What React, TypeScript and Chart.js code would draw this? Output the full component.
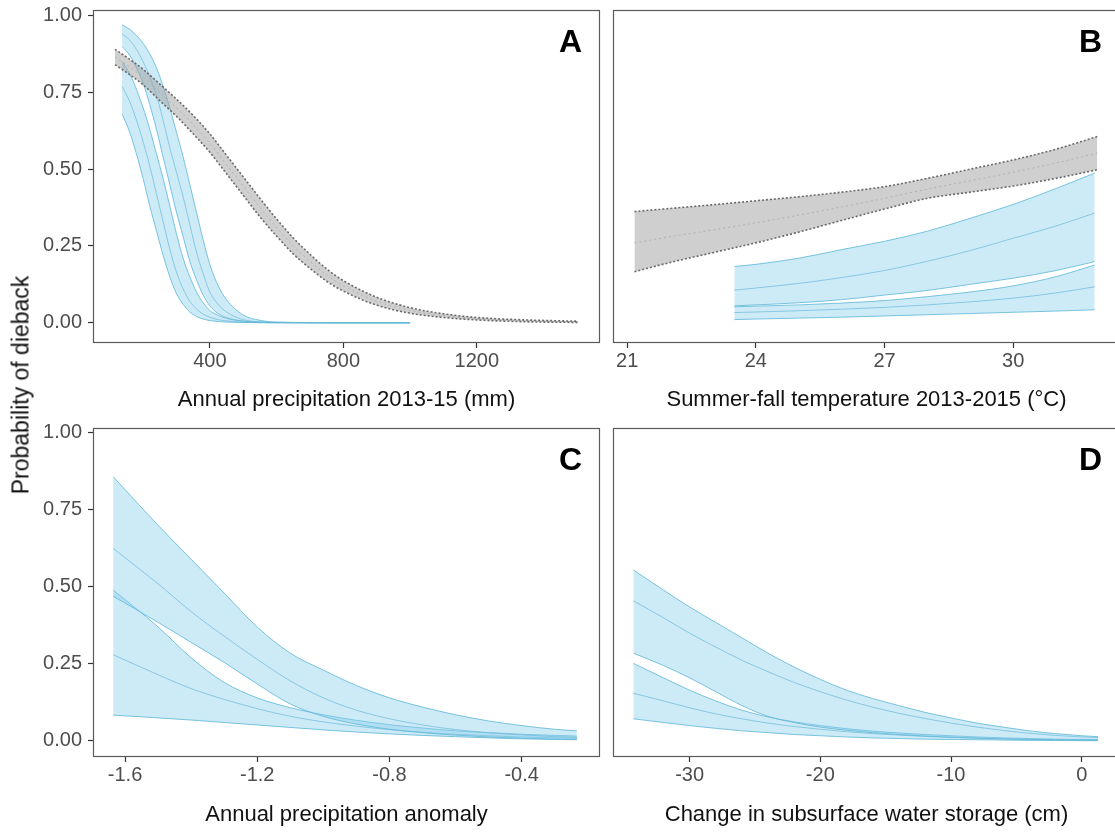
import React, { useEffect, useRef } from "react";
import { Chart, registerables } from "chart.js";

Chart.register(...registerables);

const FONT = "'Liberation Sans', Arial, Helvetica, sans-serif";

// ---------- shared y axis ----------
const Y_TICKS = [0, 0.25, 0.5, 0.75, 1.0];
const Y_TITLE = "Probability of dieback";

// ---------- Panel A: annual precipitation ----------
const A_X_TICKS = [400, 800, 1200];
const A_X_TITLE = "Annual precipitation 2013-15 (mm)";
const A_GRAY_X = [116, 150, 200, 250, 300, 350, 400, 450, 500, 550, 600, 650, 700, 750, 800, 900, 1000, 1100, 1200, 1350, 1503];
const A_GRAY_UP = [0.89, 0.865, 0.825, 0.777, 0.728, 0.675, 0.615, 0.545, 0.475, 0.405, 0.338, 0.276, 0.223, 0.175, 0.137, 0.083, 0.049, 0.029, 0.017, 0.009, 0.005];
const A_GRAY_MID = [0.865, 0.84, 0.8, 0.75, 0.7, 0.645, 0.585, 0.515, 0.445, 0.375, 0.31, 0.25, 0.2, 0.155, 0.12, 0.07, 0.04, 0.023, 0.013, 0.006, 0.003];
const A_GRAY_LOW = [0.84, 0.815, 0.775, 0.723, 0.672, 0.615, 0.555, 0.485, 0.415, 0.345, 0.282, 0.224, 0.177, 0.135, 0.103, 0.057, 0.031, 0.017, 0.009, 0.003, 0.001];
const A_BLUE_X = [137, 160, 180, 200, 220, 240, 260, 280, 300, 320, 340, 360, 380, 400, 425, 450, 500, 550, 600, 800, 1000];
const A_L_UP = [0.85, 0.81, 0.76, 0.7, 0.63, 0.55, 0.47, 0.38, 0.29, 0.21, 0.15, 0.1, 0.065, 0.04, 0.024, 0.014, 0.005, 0.002, 0.001, 0, 0];
const A_L_MID = [0.77, 0.72, 0.66, 0.59, 0.51, 0.42, 0.33, 0.24, 0.165, 0.11, 0.07, 0.045, 0.028, 0.018, 0.01, 0.006, 0.002, 0.001, 0, 0, 0];
const A_L_LOW = [0.68, 0.62, 0.55, 0.47, 0.38, 0.3, 0.22, 0.15, 0.095, 0.06, 0.035, 0.02, 0.012, 0.007, 0.004, 0.002, 0.001, 0, 0, 0, 0];
const A_R_UP = [0.97, 0.955, 0.935, 0.91, 0.875, 0.83, 0.77, 0.7, 0.62, 0.54, 0.45, 0.36, 0.27, 0.19, 0.12, 0.075, 0.025, 0.008, 0.002, 0, 0];
const A_R_MID = [0.94, 0.92, 0.89, 0.85, 0.8, 0.74, 0.66, 0.57, 0.49, 0.41, 0.32, 0.23, 0.16, 0.1, 0.06, 0.035, 0.01, 0.003, 0.001, 0, 0];
const A_R_LOW = [0.9, 0.87, 0.83, 0.78, 0.71, 0.63, 0.54, 0.45, 0.36, 0.28, 0.2, 0.14, 0.09, 0.055, 0.03, 0.017, 0.005, 0.001, 0, 0, 0];

// ---------- Panel B: summer-fall temperature ----------
const B_X_TICKS = [21, 24, 27, 30];
const B_X_TITLE = "Summer-fall temperature 2013-2015 (°C)";
const B_GRAY_X = [21.17, 22, 23, 24, 25, 26, 27, 28, 29, 30, 31, 31.96];
const B_GRAY_UP = [0.362, 0.372, 0.384, 0.397, 0.41, 0.425, 0.443, 0.47, 0.5, 0.53, 0.565, 0.606];
const B_GRAY_MID = [0.26, 0.28, 0.302, 0.325, 0.35, 0.377, 0.405, 0.435, 0.462, 0.49, 0.52, 0.552];
const B_GRAY_LOW = [0.166, 0.196, 0.228, 0.26, 0.295, 0.333, 0.37, 0.405, 0.425, 0.445, 0.47, 0.498];
const B_BLUE_X = [23.5, 24, 25, 26, 27, 28, 29, 30, 31, 31.9];
const B1_UP = [0.183, 0.19, 0.21, 0.238, 0.265, 0.298, 0.34, 0.385, 0.437, 0.487];
const B1_MID = [0.106, 0.113, 0.128, 0.147, 0.17, 0.2, 0.235, 0.275, 0.315, 0.357];
const B1_LOW = [0.055, 0.058, 0.065, 0.075, 0.09, 0.105, 0.125, 0.145, 0.17, 0.199];
const B2_UP = [0.052, 0.054, 0.058, 0.064, 0.072, 0.085, 0.1, 0.12, 0.15, 0.188];
const B2_MID = [0.033, 0.035, 0.039, 0.044, 0.05, 0.058, 0.068, 0.08, 0.097, 0.117];
const B2_LOW = [0.01, 0.012, 0.015, 0.018, 0.022, 0.026, 0.03, 0.034, 0.038, 0.042];

// ---------- Panel C: annual precipitation anomaly ----------
const C_X_TICKS = [-1.6, -1.2, -0.8, -0.4];
const C_X_TITLE = "Annual precipitation anomaly";
const C_X = [-1.636, -1.5, -1.4, -1.3, -1.2, -1.1, -1.0, -0.9, -0.8, -0.7, -0.6, -0.5, -0.4, -0.3, -0.233];
const C1_UP = [0.858, 0.7, 0.59, 0.48, 0.37, 0.285, 0.23, 0.18, 0.14, 0.11, 0.085, 0.065, 0.05, 0.038, 0.033];
const C1_MID = [0.625, 0.51, 0.42, 0.34, 0.265, 0.195, 0.14, 0.1, 0.072, 0.052, 0.037, 0.027, 0.02, 0.014, 0.012];
const C1_LOW = [0.47, 0.385, 0.32, 0.255, 0.185, 0.12, 0.08, 0.055, 0.038, 0.027, 0.019, 0.013, 0.009, 0.006, 0.005];
const C2_UP = [0.49, 0.37, 0.27, 0.19, 0.14, 0.108, 0.085, 0.067, 0.053, 0.042, 0.033, 0.027, 0.022, 0.018, 0.016];
const C2_MID = [0.28, 0.215, 0.17, 0.135, 0.105, 0.08, 0.062, 0.048, 0.037, 0.028, 0.022, 0.017, 0.013, 0.01, 0.009];
const C2_LOW = [0.084, 0.075, 0.068, 0.06, 0.052, 0.044, 0.036, 0.029, 0.023, 0.018, 0.014, 0.01, 0.007, 0.005, 0.004];

// ---------- Panel D: change in subsurface water storage ----------
const D_X_TICKS = [-30, -20, -10, 0];
const D_X_TITLE = "Change in subsurface water storage (cm)";
const D_X = [-34.3, -32, -30, -28, -26, -24, -22, -20, -18, -16, -14, -12, -10, -8, -6, -4, -2, 0, 1.25];
const D1_UP = [0.555, 0.49, 0.435, 0.385, 0.335, 0.285, 0.24, 0.2, 0.165, 0.138, 0.115, 0.093, 0.075, 0.058, 0.045, 0.033, 0.024, 0.017, 0.014];
const D1_MID = [0.455, 0.4, 0.35, 0.305, 0.262, 0.225, 0.19, 0.16, 0.133, 0.11, 0.09, 0.073, 0.058, 0.045, 0.034, 0.025, 0.018, 0.013, 0.011];
const D1_LOW = [0.285, 0.245, 0.205, 0.16, 0.115, 0.08, 0.06, 0.045, 0.035, 0.027, 0.021, 0.016, 0.012, 0.009, 0.007, 0.005, 0.004, 0.003, 0.003];
const D2_UP = [0.252, 0.205, 0.165, 0.13, 0.1, 0.078, 0.062, 0.05, 0.04, 0.032, 0.026, 0.021, 0.017, 0.013, 0.01, 0.008, 0.006, 0.005, 0.004];
const D2_MID = [0.155, 0.13, 0.108, 0.088, 0.072, 0.058, 0.047, 0.038, 0.03, 0.024, 0.019, 0.015, 0.012, 0.009, 0.007, 0.005, 0.004, 0.003, 0.003];
const D2_LOW = [0.072, 0.06, 0.05, 0.041, 0.033, 0.027, 0.021, 0.017, 0.013, 0.01, 0.008, 0.006, 0.005, 0.004, 0.003, 0.002, 0.0015, 0.001, 0.001];

// ---------- styles ----------
const BLUE_LINE = "rgba(100,186,216,0.85)";
const BLUE_MID = "rgba(95,175,205,0.75)";
const BLUE_FILL = "rgba(135,206,235,0.42)";
const GRAY_LINE = "rgba(100,100,100,0.95)";
const GRAY_MID = "rgba(140,140,140,0.5)";
const GRAY_FILL = "rgba(160,160,160,0.5)";
const TICK_COLOR = "#4d4d4d";
const FRAME_COLOR = "#5a5a5a";

type Ribbon = { x: number[]; low: number[]; mid: number[]; up: number[]; gray?: boolean };

function toPts(x: number[], y: number[]) {
  return x.map((v, i) => ({ x: v, y: y[i] }));
}

function ribbonSets(r: Ribbon) {
  const base: any = {
    pointRadius: 0,
    borderWidth: r.gray ? 1.6 : 1,
    borderColor: r.gray ? GRAY_LINE : BLUE_LINE,
    borderDash: r.gray ? [2, 2] : [],
    cubicInterpolationMode: "monotone",
  };
  return [
    { ...base, data: toPts(r.x, r.low), fill: false },
    { ...base, data: toPts(r.x, r.up), fill: "-1", backgroundColor: r.gray ? GRAY_FILL : BLUE_FILL },
    {
      ...base,
      data: toPts(r.x, r.mid),
      fill: false,
      borderWidth: 1,
      borderColor: r.gray ? GRAY_MID : BLUE_MID,
      borderDash: r.gray ? [2, 3] : [],
    },
  ];
}

type PanelCfg = {
  left: number;
  top: number;
  width: number;
  height: number;
  pad: { top: number; right: number; bottom: number; left: number };
  showY: boolean;
  yMin: number;
  yMax: number;
  xMin: number;
  xMax: number;
  xTicks: number[];
  xDigits: number;
  xTitle: string;
  xAxisHeight: number;
  titlePad: number;
  ribbons: Ribbon[];
  letter: string;
};

const PANELS: PanelCfg[] = [
  {
    left: 0, top: 0, width: 610, height: 415,
    pad: { top: 10, right: 10, bottom: 0, left: 0 },
    showY: true, yMin: -0.066, yMax: 1.018,
    xMin: 50, xMax: 1569, xTicks: A_X_TICKS, xDigits: 0, xTitle: A_X_TITLE,
    xAxisHeight: 72, titlePad: 2,
    ribbons: [
      { x: A_GRAY_X, low: A_GRAY_LOW, mid: A_GRAY_MID, up: A_GRAY_UP, gray: true },
      { x: A_BLUE_X, low: A_R_LOW, mid: A_R_MID, up: A_R_UP },
      { x: A_BLUE_X, low: A_L_LOW, mid: A_L_MID, up: A_L_UP },
    ],
    letter: "A",
  },
  {
    left: 605, top: 0, width: 520, height: 415,
    pad: { top: 10, right: 5, bottom: 0, left: 8 },
    showY: false, yMin: -0.066, yMax: 1.018,
    xMin: 20.67, xMax: 32.49, xTicks: B_X_TICKS, xDigits: 0, xTitle: B_X_TITLE,
    xAxisHeight: 72, titlePad: 2,
    ribbons: [
      { x: B_GRAY_X, low: B_GRAY_LOW, mid: B_GRAY_MID, up: B_GRAY_UP, gray: true },
      { x: B_BLUE_X, low: B1_LOW, mid: B1_MID, up: B1_UP },
      { x: B_BLUE_X, low: B2_LOW, mid: B2_MID, up: B2_UP },
    ],
    letter: "B",
  },
  {
    left: 0, top: 415, width: 610, height: 417,
    pad: { top: 13, right: 10, bottom: 0, left: 0 },
    showY: true, yMin: -0.052, yMax: 1.016,
    xMin: -1.697, xMax: -0.163, xTicks: C_X_TICKS, xDigits: 1, xTitle: C_X_TITLE,
    xAxisHeight: 75, titlePad: 4,
    ribbons: [
      { x: C_X, low: C1_LOW, mid: C1_MID, up: C1_UP },
      { x: C_X, low: C2_LOW, mid: C2_MID, up: C2_UP },
    ],
    letter: "C",
  },
  {
    left: 605, top: 415, width: 520, height: 417,
    pad: { top: 13, right: 5, bottom: 0, left: 8 },
    showY: false, yMin: -0.052, yMax: 1.016,
    xMin: -35.86, xMax: 2.93, xTicks: D_X_TICKS, xDigits: 0, xTitle: D_X_TITLE,
    xAxisHeight: 75, titlePad: 4,
    ribbons: [
      { x: D_X, low: D1_LOW, mid: D1_MID, up: D1_UP },
      { x: D_X, low: D2_LOW, mid: D2_MID, up: D2_UP },
    ],
    letter: "D",
  },
];

function decoPlugin(letter: string) {
  return {
    id: "panelDeco" + letter,
    afterDraw(chart: any) {
      const { ctx, chartArea } = chart;
      const { left, top, right, bottom } = chartArea;
      ctx.save();
      ctx.strokeStyle = FRAME_COLOR;
      ctx.lineWidth = 1.2;
      ctx.strokeRect(Math.round(left) + 0.5, Math.round(top) + 0.5, Math.round(right - left) - 1, Math.round(bottom - top) - 1);
      ctx.fillStyle = "#000";
      ctx.font = `bold 32px ${FONT}`;
      ctx.textAlign = "right";
      ctx.textBaseline = "middle";
      ctx.fillText(letter, right - 18, top + 33);
      ctx.restore();
    },
  };
}

function Panel({ cfg }: { cfg: PanelCfg }) {
  const ref = useRef<HTMLCanvasElement | null>(null);
  useEffect(() => {
    if (!ref.current) return;
    const datasets = cfg.ribbons.flatMap((r) => ribbonSets(r));
    const chart = new Chart(ref.current, {
      type: "line",
      data: { datasets: datasets as any },
      options: {
        animation: false,
        responsive: false,
        maintainAspectRatio: false,
        layout: { padding: cfg.pad },
        plugins: { legend: { display: false }, tooltip: { enabled: false } },
        elements: { point: { radius: 0 } },
        scales: {
          x: {
            type: "linear",
            min: cfg.xMin,
            max: cfg.xMax,
            afterBuildTicks: (s: any) => {
              s.ticks = cfg.xTicks.map((v) => ({ value: v }));
            },
            afterFit: (s: any) => {
              s.height = cfg.xAxisHeight;
              s.paddingLeft = 0;
              s.paddingRight = 0;
            },
            ticks: {
              autoSkip: false,
              maxRotation: 0,
              padding: 1,
              color: TICK_COLOR,
              font: { family: FONT, size: 20 },
              callback: (v: any) => Number(v).toFixed(cfg.xDigits),
            },
            grid: { drawOnChartArea: false, drawTicks: true, tickLength: 5, color: "#333", tickWidth: 1.2 },
            border: { display: false },
            title: {
              display: true,
              text: cfg.xTitle,
              color: "#111",
              font: { family: FONT, size: 22 },
              padding: { top: 0, bottom: cfg.titlePad },
            },
          } as any,
          y: {
            type: "linear",
            display: cfg.showY,
            min: cfg.yMin,
            max: cfg.yMax,
            afterBuildTicks: (s: any) => {
              s.ticks = Y_TICKS.map((v) => ({ value: v }));
            },
            afterFit: (s: any) => {
              s.width = cfg.showY ? 93 : 0;
              s.paddingTop = 0;
              s.paddingBottom = 0;
            },
            ticks: {
              padding: 6,
              color: TICK_COLOR,
              font: { family: FONT, size: 20 },
              callback: (v: any) => Number(v).toFixed(2),
            },
            grid: { drawOnChartArea: false, drawTicks: true, tickLength: 5, color: "#333", tickWidth: 1.2 },
            border: { display: false },
          } as any,
        },
      },
      plugins: [decoPlugin(cfg.letter)],
    });
    return () => chart.destroy();
  }, [cfg]);
  return (
    <canvas
      ref={ref}
      width={cfg.width}
      height={cfg.height}
      style={{ position: "absolute", left: cfg.left, top: cfg.top, width: cfg.width, height: cfg.height, display: "block" }}
    />
  );
}

export default function App() {
  return (
    <div
      style={{
        position: "absolute",
        left: 0,
        top: 0,
        width: 1115,
        height: 832,
        overflow: "hidden",
        background: "#fff",
      }}
    >
      {PANELS.map((p) => (
        <Panel key={p.letter} cfg={p} />
      ))}
      <div
        style={{
          position: "absolute",
          left: 21,
          top: 385,
          transform: "translate(-50%, -50%) rotate(-90deg)",
          whiteSpace: "nowrap",
          fontFamily: FONT,
          fontSize: 23,
          color: "#111",
        }}
      >
        {Y_TITLE}
      </div>
    </div>
  );
}
